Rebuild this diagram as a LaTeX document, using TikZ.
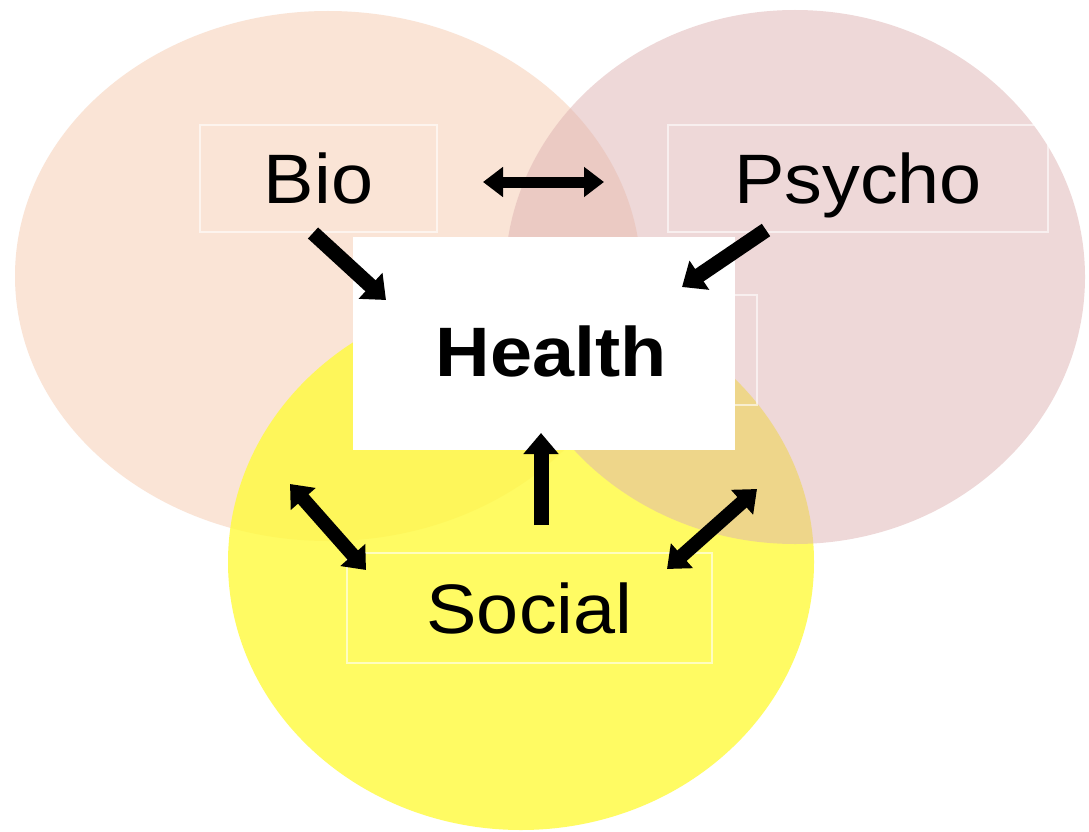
\documentclass[tikz,border=0pt]{standalone}
\usepackage{fontspec}
\setmainfont{Liberation Sans}[FakeStretch=1.08]
\usetikzlibrary{arrows.meta}
\definecolor{biofill}{RGB}{250,228,214}
\definecolor{socfill}{RGB}{255,251,60}
\definecolor{psyfill}{RGB}{222,178,178}
\begin{document}
\begin{tikzpicture}[x=1pt,y=-1pt,
  lbox/.style={draw=white, draw opacity=0.6, line width=2.5pt,
    font=\fontsize{70}{84}\selectfont, text height=50pt, text depth=0pt, inner sep=0pt},
  hbox/.style={fill=white, font=\fontsize{70}{84}\selectfont\bfseries,
    text height=66pt, text depth=0pt, inner sep=0pt},
  faint/.style={draw=white, draw opacity=0.6, line width=2.5pt},
  arr/.style={line width=15pt, -{Triangle[length=21pt,width=34pt]}},
  darr/.style={line width=14pt, {Triangle[length=20pt,width=32pt]}-{Triangle[length=20pt,width=32pt]}},
  harr/.style={line width=11pt, {Triangle[length=20pt,width=29pt]}-{Triangle[length=20pt,width=29pt]}}
]
\useasboundingbox (0,0) rectangle (1089,832);
\fill[white] (0,0) rectangle (1089,832);
% circles
\fill[biofill] (328,276) ellipse [x radius=313pt, y radius=265pt];
\fill[socfill, fill opacity=0.8] (521,562) ellipse [x radius=293pt, y radius=268pt];
\fill[psyfill, fill opacity=0.5] (795,277) ellipse [x radius=290pt, y radius=267pt];
% faint hidden outline
\draw[faint] (400,295) rectangle (757,405);
% label boxes
\node[lbox, minimum width=237pt, minimum height=107pt] (bio) at (318.5,178.5) {Bio};
\node[lbox, minimum width=380pt, minimum height=107pt] (psycho) at (858,178.5) {Psycho};
\node[lbox, minimum width=365pt, minimum height=110pt] (social) at (529.5,608) {Social};
\node[hbox, minimum width=382pt, minimum height=213pt] (health) at (544,343.5) {\hspace*{14pt}Health};
% arrow end points
\coordinate (bpA) at (483,182);
\coordinate (bpB) at (604,182);
\coordinate (bhA) at (313,233);
\coordinate (bhB) at (386,300);
\coordinate (phA) at (766,230);
\coordinate (phB) at (682,287);
\coordinate (shA) at (541,525);
\coordinate (shB) at (541,433);
\coordinate (lsA) at (290,484);
\coordinate (lsB) at (366,570);
\coordinate (rsA) at (757,489);
\coordinate (rsB) at (667,569);
% arrows
\draw[harr] (bpA) -- (bpB);
\draw[arr] (bhA) -- (bhB);
\draw[arr] (phA) -- (phB);
\draw[arr] (shA) -- (shB);
\draw[darr] (lsA) -- (lsB);
\draw[darr] (rsA) -- (rsB);
\end{tikzpicture}
\end{document}
